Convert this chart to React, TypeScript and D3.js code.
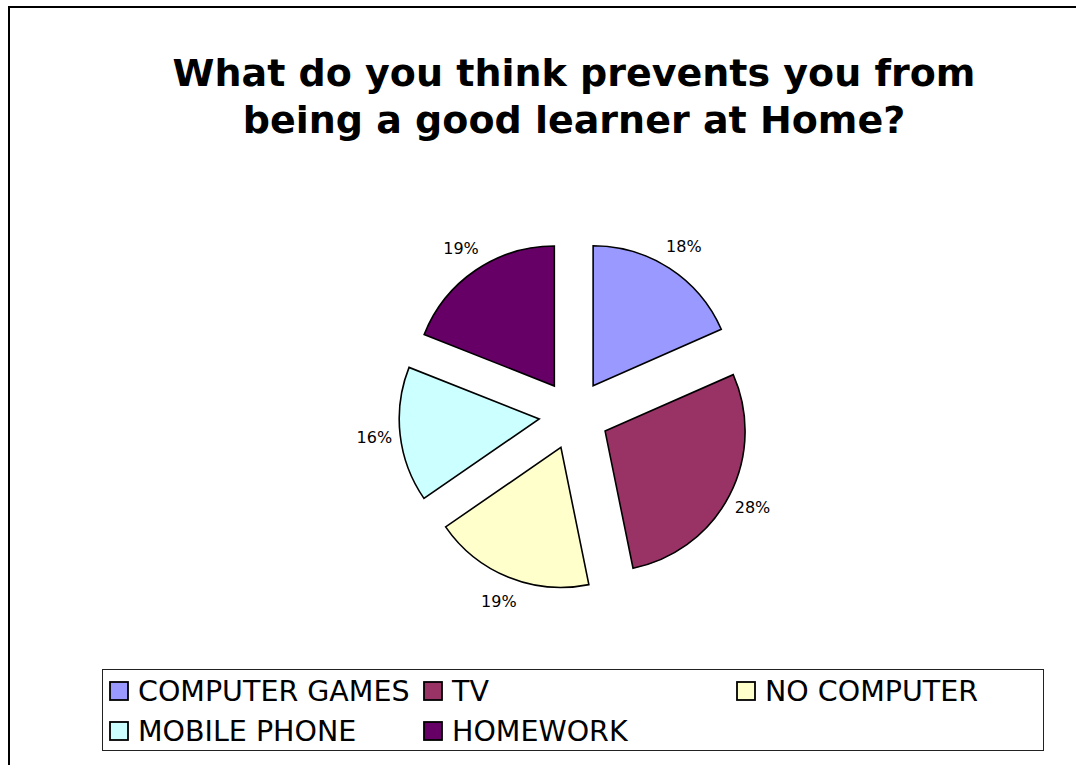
import * as d3 from 'd3'

const categories = ['COMPUTER GAMES', 'TV', 'NO COMPUTER', 'MOBILE PHONE', 'HOMEWORK']
// shares; they round to the printed labels
const values = [18.4, 28.4, 18.6, 15.6, 19.0]
const colors = ['#9999FF', '#993366', '#FFFFCC', '#CCFFFF', '#660066']
const titleLines = ['What do you think prevents you from', 'being a good learner at Home?']

const width = 1076
const height = 765
const cx = 574
const cy = 415
const radius = 140
const explode = 35
const labelRadius = 201
const font = 'DejaVu Sans, Verdana, sans-serif'

// legend layout: 3 columns, 2 rows
const legendCols = [110, 424, 737]
const legendRows = [682, 722]

export default function App() {
  const pie = d3.pie<number>().sort(null).value(d => d)
  const arcs = pie(values)
  const arc = d3.arc<d3.PieArcDatum<number>>().innerRadius(0).outerRadius(radius)
  const labelArc = d3.arc<d3.PieArcDatum<number>>().innerRadius(labelRadius).outerRadius(labelRadius)
  const total = d3.sum(values)
  const pct = d3.format('.0%')

  return (
    <svg width={width} height={height} style={{position: 'absolute', left: 0, top: 0}} fontFamily={font}>
      <rect x={0} y={0} width={width} height={height} fill="#fff" />
      <rect x={9} y={7} width={width + 40} height={height + 40} fill="none" stroke="#000" strokeWidth={2} />
      {titleLines.map((t, i) => (
        <text key={t} x={cx} y={86 + i * 47} textAnchor="middle" fontSize={38} fontWeight="bold" fill="#000">
          {t}
        </text>
      ))}
      <g transform={`translate(${cx},${cy})`}>
        {arcs.map((a, i) => {
          const mid = (a.startAngle + a.endAngle) / 2
          const dx = Math.sin(mid) * explode
          const dy = -Math.cos(mid) * explode
          return (
            <path
              key={categories[i]}
              d={arc(a) || ''}
              transform={`translate(${dx},${dy})`}
              fill={colors[i]}
              stroke="#000"
              strokeWidth={1.6}
              strokeLinejoin="miter"
            />
          )
        })}
        {arcs.map((a, i) => {
          const [lx, ly] = labelArc.centroid(a)
          return (
            <text key={'l' + i} x={lx} y={ly} dy="0.35em" textAnchor="middle" fontSize={16} fill="#000">
              {pct(values[i] / total)}
            </text>
          )
        })}
      </g>
      <rect x={102.5} y={669.5} width={941} height={81} fill="#fff" stroke="#222" strokeWidth={1} />
      {categories.map((c, i) => {
        const x = legendCols[i % 3]
        const y = legendRows[Math.floor(i / 3)]
        return (
          <g key={'lg' + c}>
            <rect x={x} y={y} width={18} height={18} fill={colors[i]} stroke="#000" strokeWidth={1.8} />
            <text x={x + 28} y={y + 19} fontSize={28.5} fill="#000">
              {c}
            </text>
          </g>
        )
      })}
    </svg>
  )
}
